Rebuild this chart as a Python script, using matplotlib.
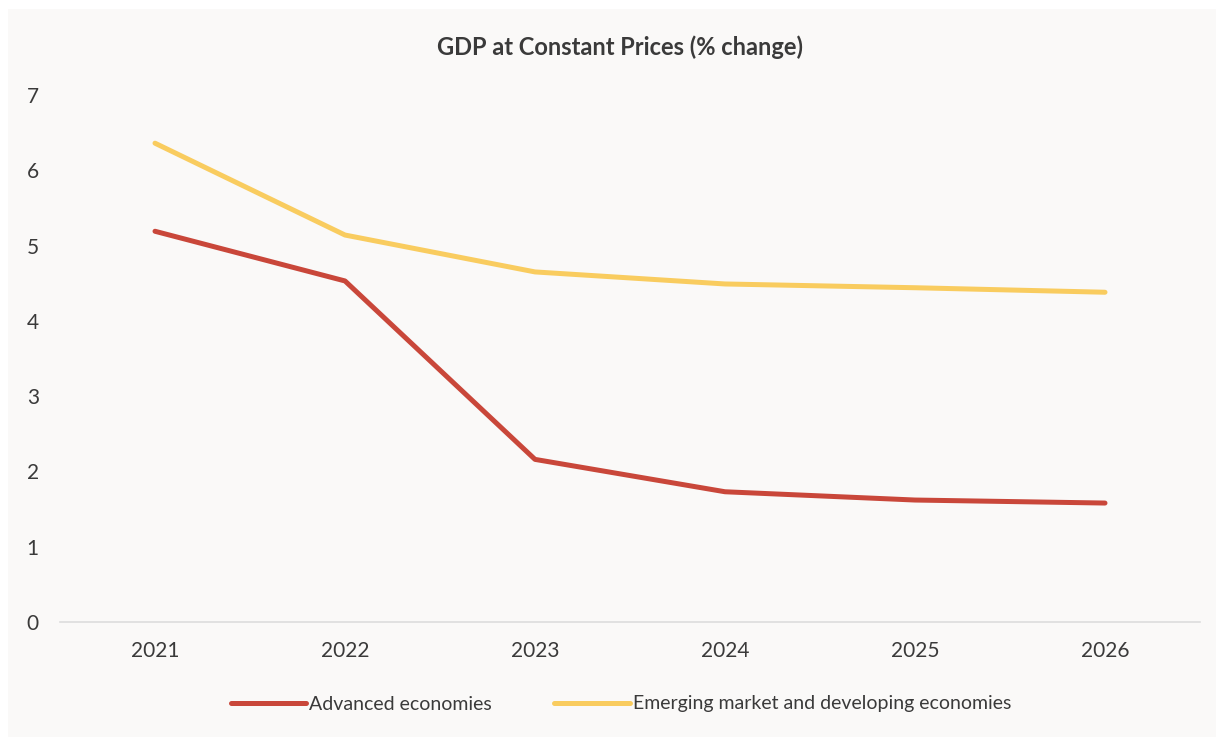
import matplotlib.pyplot as plt
from matplotlib.patches import Rectangle

years = ['2021', '2022', '2023', '2024', '2025', '2026']
advanced = [5.19, 4.53, 2.16, 1.73, 1.62, 1.58]
emerging = [6.36, 5.14, 4.65, 4.49, 4.44, 4.38]

plt.rcParams['font.family'] = ['Lato', 'DejaVu Sans']

fig = plt.figure(figsize=(12.16, 7.37), dpi=100)
fig.patch.set_facecolor('white')
# panel background
fig.patches.append(Rectangle((8 / 1216, 0), 1 - 8 / 1216, 1 - 9 / 737,
                             transform=fig.transFigure, facecolor='#FAF9F8',
                             edgecolor='none', zorder=-1))

ax = fig.add_axes([60 / 1216, 115 / 737, 1140 / 1216, 527 / 737])
ax.set_facecolor('none')

x = range(len(years))
ax.plot(x, advanced, color='#C9473A', lw=3.6, solid_capstyle='round',
        label='Advanced economies')
ax.plot(x, emerging, color='#F9CC5F', lw=3.6, solid_capstyle='round',
        label='Emerging market and developing economies')

ax.set_xlim(-0.5, 5.5)
ax.set_ylim(0, 7)
ax.set_xticks(list(x))
ax.set_xticklabels(years)
ax.set_yticks(range(8))

for s in ['top', 'right', 'left']:
    ax.spines[s].set_visible(False)
ax.spines['bottom'].set_color('#DDDDDD')
ax.spines['bottom'].set_linewidth(1.2)
ax.tick_params(axis='both', length=0, labelsize=15, colors='#3A3A3A')
ax.tick_params(axis='x', pad=14)
for lbl in ax.get_yticklabels():
    lbl.set_horizontalalignment('left')
ax.yaxis.set_tick_params(pad=24)

fig.text(620 / 1216, 1 - 47 / 737, 'GDP at Constant Prices (% change)',
         ha='center', va='center', fontsize=17, fontweight='bold', color='#3A3A3A')

ax.legend(loc='center', bbox_to_anchor=(621 / 1216, 1 - 704 / 737),
          bbox_transform=fig.transFigure, ncol=2, frameon=False, fontsize=14,
          handlelength=3.9, handletextpad=0.15, columnspacing=3.2,
          labelcolor='#3A3A3A')

fig.savefig('out.png', dpi=100)
